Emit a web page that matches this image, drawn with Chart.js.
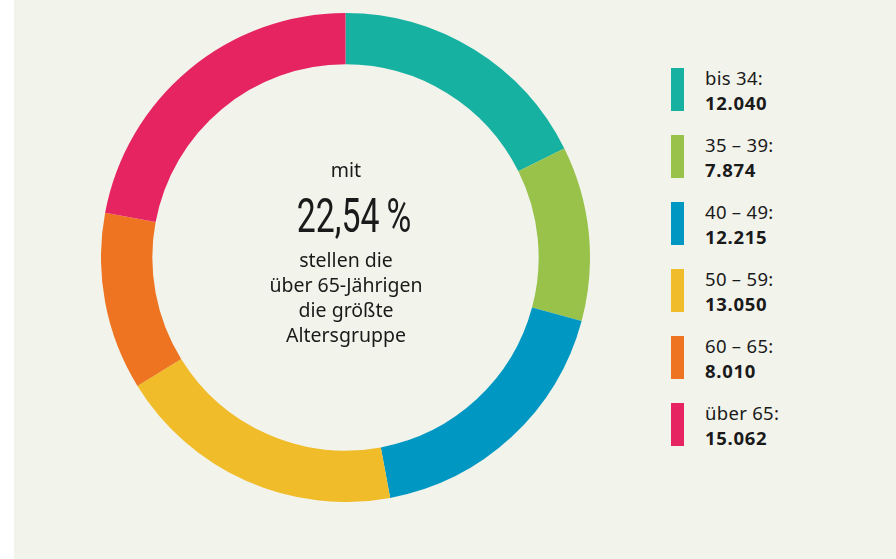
<!DOCTYPE html>
<html lang="de">
<head>
<meta charset="utf-8">
<script src="https://cdn.jsdelivr.net/npm/chart.js@4"></script>
<style>
    html, body { margin: 0; padding: 0; background: #ffffff; }
    #panel {
        position: absolute; left: 14px; top: 0; width: 882px; height: 559px;
        background: #f2f3eb; font-family: "Noto Sans", sans-serif; color: #1a1a1a;
    }
    #chart-box { position: absolute; left: 87px; top: 13px; width: 489px; height: 489px; }
    #center-text { position: absolute; left: 212px; top: 157px; width: 240px; text-align: center; }
    #center-text .small { font-size: 19.5px; line-height: 25px; }
    #center-text .small.lines { line-height: 25px; margin-top: -1px; }
    #center-text .big {
        font-family: Roboto, sans-serif; font-weight: 400; font-size: 49px; line-height: 56px;
        transform: scaleX(0.69); margin: 6px 0 4px 16px;
    }
    #legend { position: absolute; left: 657px; top: 68px; }
    .entry { position: relative; height: 67px; }
    .entry .bar { position: absolute; left: 0; top: 0; width: 13px; height: 43px; }
    .entry .txt { position: absolute; left: 34px; top: -3px; font-size: 18.5px; line-height: 25px; white-space: nowrap; letter-spacing: 0.3px; }
    .entry .txt b { font-weight: 700; letter-spacing: 0.7px; }
</style>
</head>
<body>
<div id="panel">
    <div id="chart-box"><canvas id="donut"></canvas></div>
    <div id="center-text">
        <div class="small">mit</div>
        <div class="big">22,54&thinsp;%</div>
        <div class="small lines">stellen die<br>über 65-Jährigen<br>die größte<br>Altersgruppe</div>
    </div>
    <div id="legend"></div>
</div>
<script>
// Altersgruppen und Anzahl
const ageGroups = ['bis 34:', '35 – 39:', '40 – 49:', '50 – 59:', '60 – 65:', 'über 65:'];
const counts = [12040, 7874, 12215, 13050, 8010, 15062];
const groupColors = ['#17b1a2', '#98c24a', '#0098c2', '#f0bc2a', '#ee7422', '#e62461'];

// Legende als HTML aufbauen
document.getElementById('legend').innerHTML = ageGroups.map((label, i) => `
    <div class="entry">
        <div class="bar" style="background:${groupColors[i]}"></div>
        <div class="txt">${label}<br><b>${counts[i].toLocaleString('de-DE')}</b></div>
    </div>
`).join('');

new Chart(document.getElementById('donut'), {
    type: 'doughnut',
    data: {
        labels: ageGroups,
        datasets: [{
            data: counts,
            backgroundColor: groupColors,
            borderWidth: 0
        }]
    },
    options: {
        responsive: true,
        maintainAspectRatio: false,
        animation: false,
        cutout: '79%',
        layout: { padding: 0 },
        plugins: {
            legend: { display: false },
            tooltip: { enabled: false }
        }
    }
});
</script>
</body>
</html>
